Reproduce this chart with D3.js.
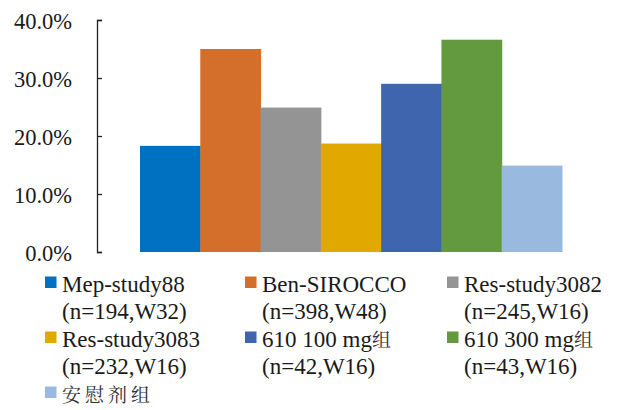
<!DOCTYPE html>
<html>
<head>
<meta charset="utf-8">
<script src="https://cdn.jsdelivr.net/npm/d3@7"></script>
</head>
<body style="margin:0;background:#fff">
<svg id="chart" width="619" height="410" style="display:block"></svg>
<script>
// Response rate by study / dose group
const groups = ["Mep-study88", "Ben-SIROCCO", "Res-study3082", "Res-study3083", "610 100 mg组", "610 300 mg组", "安慰剂组"];
const groupNotes = ["(n=194,W32)", "(n=398,W48)", "(n=245,W16)", "(n=232,W16)", "(n=42,W16)", "(n=43,W16)", ""];
const rates = [0.183, 0.350, 0.249, 0.187, 0.290, 0.366, 0.149];
const colors = ["#0070C0", "#D36F2A", "#949494", "#E1A900", "#3E65AD", "#649A3F", "#99B9DF"];
const yTicks = [0, 0.1, 0.2, 0.3, 0.4];

const LATIN = '"Liberation Serif"';
const CJK = '"Noto Serif CJK SC"';
const INK = "#1a1a1a";

const svg = d3.select("#chart");

const plot = { left: 97, right: 605, top: 20, bottom: 252 };
const outerGap = 43;

const x = d3.scaleBand()
  .domain(groups)
  .range([plot.left + outerGap, plot.right - outerGap])
  .paddingInner(0)
  .paddingOuter(0);

const y = d3.scaleLinear()
  .domain([0, 0.4])
  .range([plot.bottom, plot.top]);

// Bars
svg.append("g")
  .selectAll("rect")
  .data(groups)
  .join("rect")
  .attr("x", d => x(d))
  .attr("width", x.bandwidth() + 0.5)
  .attr("y", (d, i) => y(rates[i]))
  .attr("height", (d, i) => y(0) - y(rates[i]))
  .attr("fill", (d, i) => colors[i]);

// Value axis with inward ticks
const yAxis = d3.axisRight(y)
  .tickValues(yTicks)
  .tickSize(5)
  .tickFormat(d3.format(".1%"));

const ag = svg.append("g")
  .attr("transform", `translate(${plot.left},0)`)
  .call(yAxis);
ag.attr("font-family", null).attr("font-size", null);
ag.select(".domain").attr("stroke", "#222").attr("stroke-width", 1.3);
ag.selectAll(".tick line").attr("stroke", "#222").attr("stroke-width", 1.3);
ag.selectAll(".tick text")
  .attr("x", -25)
  .attr("dy", "0.36em")
  .attr("text-anchor", "end")
  .style("font-family", LATIN)
  .style("font-size", "22.5px")
  .attr("fill", INK);

// Legend: three columns, each entry spans two lines
const legendCols = [45, 245, 447];
const legendTop = 291.5;
const rowStep = 55;
const lineStep = 27.5;

const leg = svg.append("g");
groups.forEach((g, i) => {
  const cx = legendCols[i % 3];
  const by = legendTop + Math.floor(i / 3) * rowStep;
  leg.append("rect")
    .attr("x", cx)
    .attr("y", by - 15)
    .attr("width", 11.5)
    .attr("height", 11.5)
    .attr("fill", colors[i]);

  const t = leg.append("text")
    .attr("x", cx + 17)
    .attr("y", by)
    .attr("fill", INK)
    .style("font-family", LATIN)
    .style("font-size", "23px");
  // latin and CJK runs each get their own face
  const parts = g.match(/[\u4e00-\u9fff]+|[^\u4e00-\u9fff]+/g);
  parts.forEach(p => {
    const isCjk = /[\u4e00-\u9fff]/.test(p);
    const s = t.append("tspan").text(p);
    if (isCjk) {
      s.style("font-family", CJK)
        .style("font-size", "19px")
        .style("letter-spacing", p.length > 1 ? "4px" : "0px")
        .attr("fill", "#333");
    }
  });

  if (groupNotes[i]) {
    leg.append("text")
      .attr("x", cx + 17)
      .attr("y", by + lineStep)
      .attr("fill", INK)
      .style("font-family", LATIN)
      .style("font-size", "23px")
      .text(groupNotes[i]);
  }
});
</script>
</body>
</html>
